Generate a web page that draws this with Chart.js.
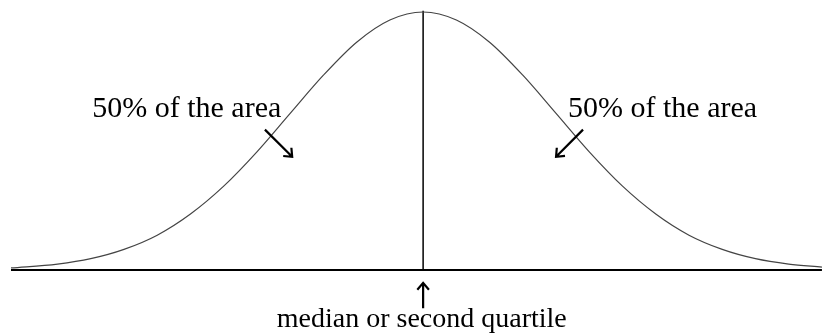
<!DOCTYPE html>
<html>
<head>
<meta charset="utf-8">
<script src="https://cdn.jsdelivr.net/npm/chart.js@4/dist/chart.umd.min.js"></script>
<style>
  html, body { margin: 0; padding: 0; background: #fff; }
  #wrap { width: 823px; height: 334px; position: relative; }
</style>
</head>
<body>
<div id="wrap"><canvas id="grafico"></canvas></div>
<script>
// posições ao longo do eixo (em desvios-padrão) e alturas (pico = 1)
var posicoes = [-3.1, -2.75, -2.5, -2.25, -2, -1.75, -1.5, -1.25, -1, -0.75, -0.5, -0.25, 0,
                0.25, 0.5, 0.75, 1, 1.25, 1.5, 1.75, 2, 2.25, 2.5, 2.75, 3.0];
var alturas = [0.008, 0.023, 0.044, 0.080, 0.135, 0.217, 0.325, 0.458, 0.607, 0.755, 0.883, 0.969, 1,
               0.969, 0.883, 0.755, 0.607, 0.458, 0.325, 0.217, 0.135, 0.080, 0.044, 0.023, 0.011];

var mediana = 0;
var rotuloArea = '50% of the area';
var rotuloMediana = 'median or second quartile';

// pontos da curva
var curva = posicoes.map(function(x, i) {
    return { x: x, y: alturas[i] };
});

// anotações (em unidades dos dados)
var setas = [
    { de: [-1.19, 0.544], ate: [-0.985, 0.439] },
    { de: [1.203, 0.544], ate: [1.0, 0.439] },
    { de: [0, -0.148], ate: [0, -0.05] }
];
var textos = [
    { texto: rotuloArea, x: -2.489, y: 0.594, alinhar: 'left', fonte: '30px "Liberation Serif", "Times New Roman", serif' },
    { texto: rotuloArea, x: 1.09, y: 0.594, alinhar: 'left', fonte: '30px "Liberation Serif", "Times New Roman", serif' },
    { texto: rotuloMediana, x: -0.01, y: -0.222, alinhar: 'center', fonte: '28px "Liberation Serif", "Times New Roman", serif' }
];

// Plugin para desenhar setas e textos
var pluginAnotacoes = {
    id: 'anotacoes',
    afterDatasetsDraw: function(chart) {
        var ctx = chart.ctx;
        var sx = chart.scales.x, sy = chart.scales.y;
        ctx.save();
        ctx.strokeStyle = '#000';
        ctx.lineWidth = 2.2;
        ctx.lineCap = 'butt';
        setas.forEach(function(s) {
            var x1 = sx.getPixelForValue(s.de[0]), y1 = sy.getPixelForValue(s.de[1]);
            var x2 = sx.getPixelForValue(s.ate[0]), y2 = sy.getPixelForValue(s.ate[1]);
            var ang = Math.atan2(y2 - y1, x2 - x1);
            var L = 9;
            ctx.beginPath();
            ctx.moveTo(x1, y1);
            ctx.lineTo(x2, y2);
            ctx.moveTo(x2 - L * Math.cos(ang - 0.7), y2 - L * Math.sin(ang - 0.7));
            ctx.lineTo(x2, y2);
            ctx.lineTo(x2 - L * Math.cos(ang + 0.7), y2 - L * Math.sin(ang + 0.7));
            ctx.stroke();
        });
        ctx.fillStyle = '#000';
        ctx.textBaseline = 'alphabetic';
        textos.forEach(function(t) {
            ctx.font = t.fonte;
            ctx.textAlign = t.alinhar;
            ctx.fillText(t.texto, sx.getPixelForValue(t.x), sy.getPixelForValue(t.y));
        });
        ctx.restore();
    }
};

var configuracao = {
    type: 'scatter',
    data: {
        datasets: [
            {
                data: curva,
                showLine: true,
                borderColor: '#444',
                borderWidth: 1.2,
                pointRadius: 0,
                cubicInterpolationMode: 'monotone',
                clip: false
            },
            {
                data: [{ x: posicoes[0], y: 0 }, { x: posicoes[posicoes.length - 1], y: 0 }],
                showLine: true,
                borderColor: '#000',
                borderWidth: 2,
                pointRadius: 0,
                clip: false
            },
            {
                data: [{ x: mediana, y: 0 }, { x: mediana, y: 1.005 }],
                showLine: true,
                borderColor: '#000',
                borderWidth: 1.5,
                pointRadius: 0,
                clip: false
            }
        ]
    },
    options: {
        responsive: true,
        maintainAspectRatio: false,
        animation: false,
        layout: { padding: { left: 11, right: 0, top: 12, bottom: 64 } },
        plugins: { legend: { display: false }, tooltip: { enabled: false } },
        scales: {
            x: { type: 'linear', display: false, min: -3.1, max: 3.008 },
            y: { type: 'linear', display: false, min: 0, max: 1 }
        }
    },
    plugins: [pluginAnotacoes]
};

var meuGrafico = new Chart(document.getElementById('grafico').getContext('2d'), configuracao);
</script>
</body>
</html>
